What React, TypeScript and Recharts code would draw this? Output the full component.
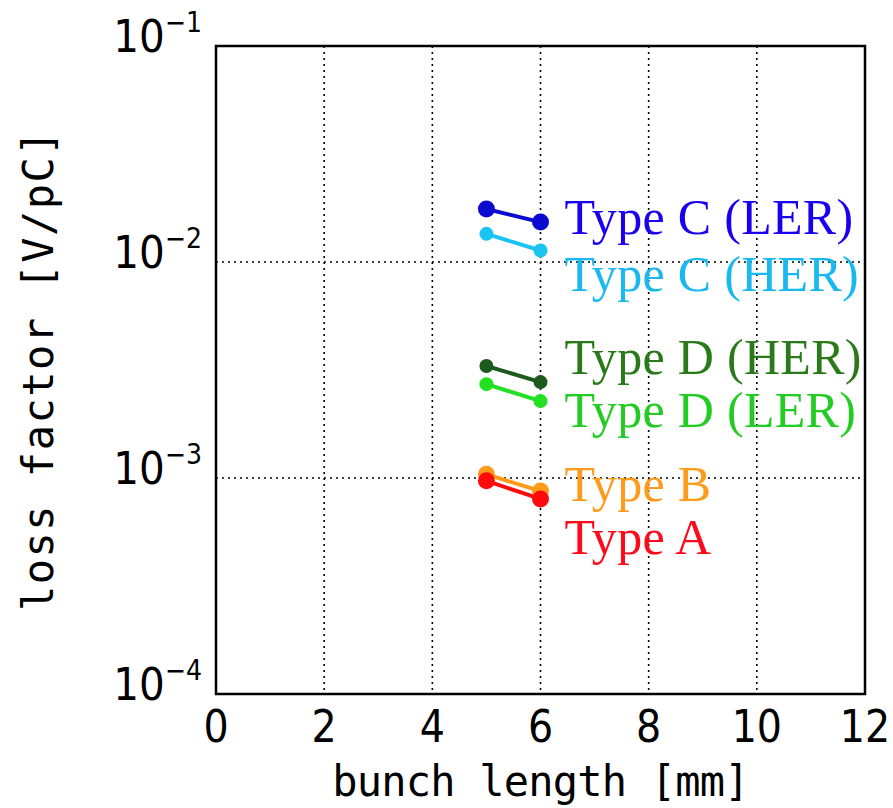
import React from 'react';
import {
  LineChart,
  Line,
  XAxis,
  YAxis,
  CartesianGrid,
  ReferenceArea,
} from 'recharts';

// bunch length [mm]
const bunchLength = [5, 6];

// loss factor [V/pC]
const typeCLer = [0.0176, 0.0153];
const typeCHer = [0.0135, 0.0113];
const typeDHer = [0.0033, 0.00278];
const typeDLer = [0.00272, 0.00227];
const typeB = [0.00104, 0.00087];
const typeA = [0.00097, 0.0008];

const xTicks = [0, 2, 4, 6, 8, 10, 12];
const yTicks = [1e-4, 1e-3, 1e-2, 1e-1];

const seriesList = [
  { key: 'typeCLer', name: 'Type C (LER)', values: typeCLer, color: '#0a0ad0', text: '#1a00ee', r: 8.5, labelDy: 12 },
  { key: 'typeCHer', name: 'Type C (HER)', values: typeCHer, color: '#1ac4f2', text: '#18b8f0', r: 7, labelDy: 40 },
  { key: 'typeDHer', name: 'Type D (HER)', values: typeDHer, color: '#1d5a1d', text: '#2a7a1a', r: 7, labelDy: -8 },
  { key: 'typeDLer', name: 'Type D (LER)', values: typeDLer, color: '#22e022', text: '#22cc22', r: 7, labelDy: 26 },
  { key: 'typeB', name: 'Type B', values: typeB, color: '#ff9a1a', text: '#ff9a1a', r: 8.5, labelDy: 10 },
  { key: 'typeA', name: 'Type A', values: typeA, color: '#ff0a0a', text: '#ff0a1a', r: 8.5, labelDy: 55 },
];

const data = bunchLength.map((x, i) => {
  const row: any = { x };
  seriesList.forEach((s) => {
    row[s.key] = s.values[i];
  });
  return row;
});

const tickFont = '"Liberation Sans Narrow", "DejaVu Sans Condensed", "Liberation Sans", sans-serif';
const monoFont = '"DejaVu Sans Mono", "Liberation Mono", monospace';

const YTick = ({ x, y, payload }: any) => {
  const exp = Math.round(Math.log10(payload.value));
  return (
    <text x={x - 6} y={y + 6} textAnchor="end" fill="#000" fontFamily={tickFont} fontSize={45}>
      <tspan>10</tspan>
      <tspan dy={-20} fontSize={28}>{'\u2212' + Math.abs(exp)}</tspan>
    </text>
  );
};

const XTick = ({ x, y, payload }: any) => (
  <text x={x} y={y + 40} textAnchor="middle" fill="#000" fontFamily={tickFont} fontSize={44}>
    {payload.value}
  </text>
);

const makeLabel = (s: any) => (props: any) => {
  const { x, y, index } = props;
  if (index !== bunchLength.length - 1) return null;
  return (
    <text
      x={x + 24}
      y={y + s.labelDy}
      fill={s.text}
      fontFamily='"Liberation Serif", "DejaVu Serif", serif'
      fontSize={50}
      letterSpacing={0.3}
    >
      {s.name}
    </text>
  );
};

export default function App() {
  return (
    <div style={{ position: 'absolute', left: 0, top: 0, width: 893, height: 808, background: '#fff' }}>
      <LineChart
        width={893}
        height={808}
        data={data}
        margin={{ top: 46, right: 28, left: 0, bottom: 0 }}
      >
        <CartesianGrid stroke="#000" strokeWidth={1.6} strokeDasharray="2 4" />
        <XAxis
          type="number"
          dataKey="x"
          domain={[0, 12]}
          ticks={xTicks}
          interval={0}
          axisLine={false}
          tickLine={false}
          height={114}
          tick={<XTick />}
          label={{
            value: 'bunch length [mm]',
            position: 'insideBottom',
            offset: 12,
            style: { fontFamily: monoFont, fontSize: 42, letterSpacing: -0.8, fill: '#000' },
          }}
        />
        <YAxis
          scale="log"
          domain={[1e-4, 1e-1]}
          ticks={yTicks}
          interval={0}
          allowDataOverflow
          axisLine={false}
          tickLine={false}
          width={216}
          tick={<YTick />}
          label={{
            value: 'loss factor [V/pC]',
            angle: -90,
            position: 'insideLeft',
            offset: 38,
            style: { textAnchor: 'middle', fontFamily: monoFont, fontSize: 42, letterSpacing: 1.5, fill: '#000' },
          }}
        />
        <ReferenceArea
          x1={0}
          x2={12}
          y1={1e-4}
          y2={1e-1}
          stroke="#000"
          strokeWidth={2.5}
          fill="none"
          fillOpacity={0}
          ifOverflow="visible"
        />
        {seriesList.map((s) => (
          <Line
            key={s.key}
            dataKey={s.key}
            name={s.name}
            stroke={s.color}
            strokeWidth={4}
            dot={{ r: s.r, fill: s.color, stroke: s.color, strokeWidth: 0 }}
            activeDot={false}
            isAnimationActive={false}
            label={makeLabel(s)}
          />
        ))}
      </LineChart>
    </div>
  );
}
